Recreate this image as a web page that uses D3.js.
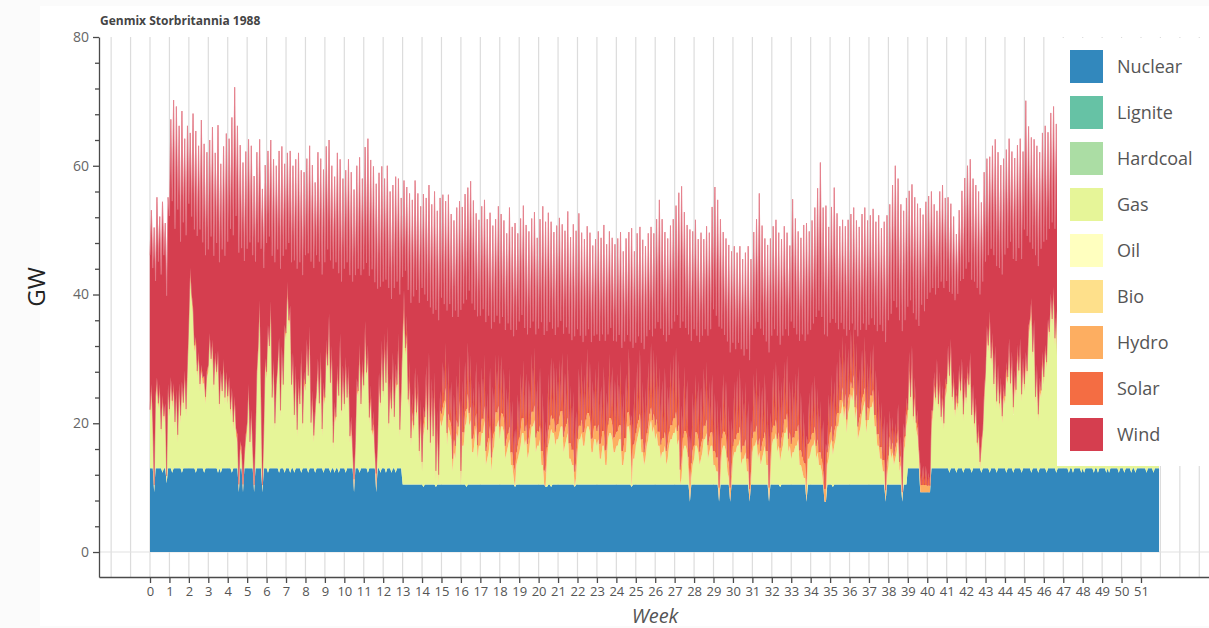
<!DOCTYPE html>
<html>
<head>
<meta charset="utf-8">
<script src="https://cdn.jsdelivr.net/npm/d3@7"></script>
<style>
  body { margin: 0; background: #fff; }
  svg { display: block; }
  text { font-family: "Open Sans", "Liberation Sans", sans-serif; }
</style>
</head>
<body>
<svg id="chart" width="1209" height="628"></svg>
<script>
// ---- Chart content ----------------------------------------------------
const chartTitle = "Genmix Storbritannia 1988";
const technologies = ["Nuclear", "Lignite", "Hardcoal", "Gas", "Oil", "Bio", "Hydro", "Solar", "Wind"];
const techColors = ["#3288bd", "#66c2a5", "#abdda4", "#e6f598", "#ffffbf", "#fee08b", "#fdae61", "#f46d43", "#d53e4f"];
const weekTicks = [0,1,2,3,4,5,6,7,8,9,10,11,12,13,14,15,16,17,18,19,20,21,22,23,24,25,
  26,27,28,29,30,31,32,33,34,35,36,37,38,39,40,41,42,43,44,45,46,47,48,49,50,51];
const gwTicks = [0, 20, 40, 60, 80];
const gwMinorTicks = [4, 8, 12, 16, 24, 28, 32, 36, 44, 48, 52, 56, 64, 68, 72, 76];

// Two readings per day (night, day), 14 per week, GW
const readingsPerWeek = 14;

const nuclear = [
  13,13,13,9.3,13,13,13,13,13,12.3,13,13,10.7,13,
  13,13,12.3,13,13,13,13,13,13,12.3,13,13,13,13,
  13,13,13,13,13,12.3,13,13,13,13,13,12.3,13,13,
  13,13,13,13,13,13,13,12.3,13,12.3,13,13,13,13,
  13,13,13,12.3,13,13,13,13,9.3,13,13,9.3,13,13,
  13,13,13,13,13,9.3,13,13,13,13,13,9.3,13,13,
  13,12.3,13,13,13,13,13,13,13,12.3,13,13,13,12.3,
  13,13,13,12.3,13,13,12.3,13,13,13,13,12.3,13,13,
  13,13,12.3,13,13,13,13,12.3,13,13,13,13,13,12.3,
  13,13,13,13,12.3,13,13,12.3,13,13,12.3,13,13,13,
  13,12.3,13,13,13,13,13,9.3,13,13,13,12.3,13,13,
  13,13,13,12.3,13,13,13,13,13,9.3,13,13,12.3,13,
  13,13,12.3,13,13,13,12.3,13,13,12.3,13,13,13,13,
  10.5,10.5,10.5,10.5,10.5,10.5,10.5,10.5,10.5,10.5,10.5,10.5,10.5,10.5,
  10.5,10.1,10.5,10.5,10.5,10.5,10.5,10.5,10.5,10.5,10.1,10.5,10.5,10.5,
  10.5,10.5,10.5,10.5,10.5,10.5,10.5,10.5,10.5,10.5,10.5,10.5,10.5,10.5,
  10.5,10.5,10.5,10.5,10.1,10.5,10.5,10.5,10.5,10.5,10.5,10.5,10.5,10.5,
  10.5,10.5,10.5,10.5,10.5,10.5,10.5,10.5,10.5,10.5,10.5,10.5,10.5,10.5,
  10.5,10.5,10.5,10.5,10.5,10.5,10.5,10.5,10.5,10.5,10.5,10.1,10.5,10.5,
  10.5,10.5,10.5,10.5,10.5,10.5,10.5,10.5,10.5,10.5,10.5,10.5,10.5,10.5,
  10.5,10.5,10.5,10.5,10.5,10.1,10.1,10.5,10.5,10.1,10.5,10.5,10.5,10.5,
  10.5,10.5,10.5,10.5,10.5,10.5,10.5,10.5,10.5,10.5,10.5,10.5,10.1,10.5,
  10.5,10.5,10.5,10.5,10.5,10.5,10.5,10.5,10.5,10.5,10.5,10.5,10.5,10.5,
  10.5,10.5,10.5,10.5,10.5,10.5,10.5,10.5,10.5,10.5,10.5,10.5,10.5,10.5,
  10.5,10.5,10.5,10.5,10.5,10.5,10.5,10.5,10.5,10.5,10.5,10.1,10.5,10.5,
  10.5,10.5,10.5,10.5,10.5,10.5,10.5,10.5,10.5,10.5,10.5,10.5,10.5,10.5,
  10.5,10.5,10.5,10.5,10.5,10.5,10.5,10.5,10.5,10.5,10.5,10.5,10.5,10.5,
  10.5,10.5,10.5,10.5,10.5,10.5,10.5,10.5,10.5,10.5,10.5,7.8,10.5,10.5,
  10.5,10.5,10.5,10.5,10.5,10.5,10.5,10.5,10.5,10.5,10.5,10.5,10.5,10.5,
  10.5,10.5,10.5,10.5,7.8,10.5,10.5,10.5,10.5,10.5,10.5,10.5,7.8,10.5,
  10.5,10.5,10.5,10.5,10.5,10.5,10.5,10.5,10.5,10.5,10.5,10.5,7.8,10.5,
  10.5,10.5,10.5,10.5,10.5,10.5,10.5,10.5,10.5,10.5,10.5,10.5,7.8,10.5,
  10.5,10.5,10.5,10.5,10.5,10.5,10.1,10.5,10.5,10.5,10.5,10.5,10.5,10.5,
  10.5,10.5,10.5,10.5,10.5,10.5,10.5,10.5,10.5,10.5,10.5,7.8,10.5,10.5,
  10.5,10.5,10.5,10.5,10.5,10.5,10.5,10.5,10.5,10.5,7.8,7.8,10.5,10.5,
  10.5,10.5,10.1,10.5,10.5,10.5,10.5,10.5,10.5,10.5,10.5,10.5,10.5,10.5,
  10.5,10.5,10.5,10.5,10.5,10.5,10.5,10.5,10.5,10.5,10.5,10.5,10.5,10.5,
  10.5,10.5,10.5,10.5,10.5,10.5,10.5,10.5,10.5,10.5,10.5,10.5,7.8,10.5,
  10.5,10.5,10.5,10.5,10.5,10.5,10.5,10.5,10.5,10.5,7.8,10.5,10.5,10.5,
  13,13,13,13,13,13,13,13,13,9.3,9.3,9.3,9.3,9.3,
  9.3,9.3,9.3,13,13,13,13,13,13,13,13,13,13,13,
  13,13,12.3,13,13,13,13,12.3,13,13,13,13,12.3,13,
  13,13,13,13,12.3,13,13,13,13,13,13,12.3,13,13,
  13,13,13,12.3,13,13,13,13,12.3,13,13,13,13,13,
  13,12.3,13,13,13,13,12.3,13,13,13,13,13,12.3,13,
  13,13,13,13,13,12.3,13,13,13,13,12.3,13,13,13,
  13,13,12.3,13,13,13,13,13,13,12.3,13,13,13,13,
  13,13,13,13,12.3,13,13,12.3,13,13,13,13,13,12.3,
  13,12.3,13,13,13,13,13,13,12.3,13,13,12.3,13,13,
  13,13,13,12.3,13,12.3,13,13,13,13,13,13,12.3,13,
  13,13,12.3,13,13,13,13,12.3,13,13,12.3,13,13,13,
  13,13,13,13,12.3,13,13,13,13,12.3,13,13,13,13
];

const lignite = [];   // no output
const hardcoal = [];  // no output

const gas = [
  8,12,6,0,10,13,9,12,5,11,7,9,0,12,
  8,13,10,12,6,11,4,12,7,13,9,14,8,15,
  22,30,26,24,18,20,14,17,12,15,13,14,10,14,
  15,20,16,19,12,17,14,18,9,15,11,16,10,14,
  10,13,8,12,6,10,5,4,0,3,2,0,1,4,
  6,12,3,8,2,0,4,14,18,25,10,0,5,16,
  14,22,18,25,10,16,6,12,15,20,8,18,12,22,
  20,27,22,24,12,16,8,14,5,12,9,17,6,13,
  12,18,14,20,6,10,4,8,11,15,9,16,5,12,
  10,18,15,22,13,17,3,9,7,14,11,19,8,14,
  9,16,10,14,4,6,2,0,3,12,11,18,9,15,
  12,20,14,17,7,10,5,6,2,0,3,12,10,17,
  11,18,13,19,6,11,9,15,7,14,12,18,5,10,
  22,26,20,22,12,15,6,10,8,14,10,13,4,9,
  2,8,9,14,7,16,5,12,6,13,1,7,0,10,
  9,10,11,13,6,9,8,7,2,5,4,8,7,11,
  0,6,6,9,10,12,9,10,5,5,7,9,4,6,
  6,8,8,10,3,4,5,7,2,5,6,9,9,10,
  7,9,9,8,4,5,6,7,3,3,1,0,3,4,
  5,6,8,8,6,7,4,5,7,9,9,10,5,6,
  6,7,3,3,0,0,4,6,7,9,8,8,6,7,
  7,8,9,9,5,6,7,8,4,4,3,3,0,1,
  5,7,7,8,6,6,8,9,9,8,5,5,7,7,
  6,7,4,4,6,6,3,3,7,8,8,7,5,5,
  6,6,7,7,3,3,5,5,9,9,7,0,4,4,
  6,7,8,9,5,5,3,4,6,7,9,10,8,9,
  7,8,6,6,4,5,5,6,3,4,6,7,7,8,
  8,9,6,7,0,1,5,6,6,5,2,0,1,3,
  4,6,6,5,3,4,5,7,7,8,4,5,6,6,
  3,3,2,2,0,1,5,6,6,5,2,1,0,0,
  4,5,5,6,6,7,3,4,4,5,2,2,0,0,
  5,6,6,7,4,5,3,4,5,6,3,3,0,1,
  6,7,7,8,5,6,4,5,6,8,8,9,5,6,
  4,5,5,6,6,7,3,3,2,1,1,0,4,4,
  5,6,6,7,4,5,3,3,2,0,0,0,3,4,
  6,7,5,6,7,9,9,11,11,13,10,12,8,11,
  12,14,13,15,10,12,7,8,9,11,12,13,8,10,
  10,12,12,13,9,9,6,6,4,4,2,2,0,1,
  3,6,4,5,3,4,5,7,2,3,0,5,6,9,
  8,14,10,15,7,10,6,5,2,0,0,0,0,0,
  0,0,0,6,8,12,10,14,9,12,7,10,6,11,
  12,17,14,18,10,13,8,11,9,14,11,15,8,12,
  10,14,12,16,8,11,6,9,3,5,0,3,5,10,
  14,20,18,23,16,19,12,17,10,14,9,12,7,11,
  10,15,13,18,12,16,9,13,11,17,14,18,11,15,
  12,16,14,20,22,25,17,21,10,14,8,12,11,16,
  13,18,16,22,20,26,22,27,19,24,15,20,14,18,
  12,17,14,19,10,15,8,12,11,16,13,18,9,14,
  15,20,17,22,12,16,7,11,9,14,12,17,10,15,
  13,18,16,21,11,15,6,9,4,8,10,16,12,17,
  14,19,11,16,9,13,12,18,15,21,10,14,7,11,
  9,13,7,10,8,12,6,9,10,14,11,15,12,16
];

const oil = [];       // no output
const bio = [];       // no output

// Weekly mean hydro output, GW
const hydroWeekly = [
  1.1,1.2,1.1,1.0,1.2,1.1,1.0,1.0,1.1,1.0,1.0,0.9,1.0,
  1.2,1.5,2.0,2.1,2.2,2.0,2.3,2.2,2.4,2.1,2.3,2.2,2.0,
  2.2,2.3,2.1,2.2,2.0,2.2,2.1,2.3,2.0,2.1,2.0,1.8,1.5,
  1.1,1.0,1.1,1.0,1.1,1.2,1.1,1.2,1.1,1.2,1.2,1.1,1.2
];

// Daytime solar output per day, GW (night readings are zero)
const solarMidday = [
  0,0,0,0,0,0,0, 0,0,0,0,0,0,0, 0,0,0,0,0,0,0, 0,0,0,0,0,0,0,
  0,0,0,0,0,0,0, 0,0,0,0,0,0,0, 0,0,0,0,0,0,0, 1,1,1,1,1,1,1,
  1,1,1,1,1,1,1, 1,1,1,1,1,1,1, 1,1,1,1,1,1,1, 2,2,2,2,2,2,2,
  2,2,2,2,2,2,2, 3,3,3,3,3,3,3, 3,3,3,3,3,3,3, 7,7,8,7,7,7,7,
  8,8,8,8,8,8,8, 8,8,8,9,8,9,8, 9,8,8,9,8,7,8, 9,9,8,9,9,9,8,
  9,9,8,9,9,9,9, 9,9,9,10,9,9,8, 9,9,9,10,9,9,9, 10,9,10,9,10,9,9,
  9,10,9,10,10,9,9, 10,10,9,9,10,10,10, 10,10,9,10,9,10,10, 10,10,9,10,9,8,9,
  9,9,9,9,9,9,9, 9,9,9,9,9,9,8, 9,9,9,9,9,9,8, 9,9,9,9,9,8,8,
  9,9,9,9,9,9,8, 9,9,9,9,8,8,8, 8,8,8,8,8,7,8, 8,8,8,8,8,8,8,
  8,8,8,8,8,8,7, 7,7,7,7,7,7,7, 4,4,4,4,3,3,3, 3,3,3,3,3,3,3,
  2,2,2,2,2,2,2, 1,1,1,1,1,1,1, 1,1,1,1,1,1,1, 1,1,1,1,1,1,1,
  1,1,1,1,1,1,1, 1,1,1,1,1,1,1, 0,0,0,0,0,0,0, 0,0,0,0,0,0,0,
  0,0,0,0,0,0,0, 0,0,0,0,0,0,0, 0,0,0,0,0,0,0, 0,0,0,0,0,0,0
];

const wind = [
  24,27,24,40,18,28,22,26,24,30,25,28,28,29,
  30,40,31,44,30,44,35,40,27,42,28,36,27,37,
  18,21,12,30,18,32,21,32,24,38,21,36,22,34,
  18,30,19,33,20,31,20,35,22,32,22,33,22,37,
  24,37,28,42,29,48,33,48,36,46,31,50,30,44,
  27,38,31,41,30,48,27,34,16,25,23,46,25,30,
  20,27,17,25,22,31,25,34,18,29,22,31,20,25,
  13,20,12,24,19,29,24,32,25,35,22,28,23,31,
  20,28,19,28,25,35,26,35,21,32,22,30,24,33,
  21,30,18,27,19,28,27,35,24,33,19,27,20,29,
  21,29,21,32,25,38,26,45,26,33,19,29,20,28,
  18,27,17,32,22,35,25,38,26,45,24,31,18,27,
  17,24,16,25,21,29,17,26,20,29,16,24,21,29,
  9,17,12,20,17,26,21,30,20,29,19,28,23,30,
  27,33,19,26,20,26,21,27,19,28,25,31,24,30,
  18,26,15,22,19,26,18,26,22,27,21,26,17,24,
  25,27,20,26,17,24,19,27,21,29,18,23,20,25,
  18,25,17,24,20,27,19,24,20,25,17,21,15,23,
  16,22,15,23,18,24,17,25,19,27,20,32,19,25,
  18,24,16,24,16,23,17,23,15,21,14,21,16,22,
  16,23,20,29,21,31,18,25,16,21,14,20,15,22,
  15,22,14,20,16,22,15,22,17,23,17,26,21,28,
  17,24,14,20,14,21,13,19,13,20,15,21,14,20,
  15,20,16,23,15,22,17,23,14,19,14,20,15,21,
  14,21,14,20,16,22,15,21,12,18,13,29,15,21,
  14,20,13,19,15,22,16,22,15,20,13,18,13,18,
  15,21,17,26,18,25,16,21,17,23,15,21,15,21,
  15,22,18,26,22,34,18,24,16,24,19,32,19,25,
  18,24,15,22,17,24,16,20,15,21,17,23,16,26,
  22,32,22,31,25,29,17,22,15,22,18,25,21,26,
  16,21,14,19,14,19,16,20,14,20,17,24,20,25,
  16,22,16,23,19,29,19,25,16,21,17,24,21,27,
  15,22,15,22,16,22,16,22,15,21,14,19,16,21,
  19,28,17,24,15,21,17,24,19,29,19,33,17,25,
  17,25,17,26,20,31,22,37,22,33,24,37,18,26,
  17,26,19,30,16,23,13,19,12,18,12,18,13,20,
  10,18,10,18,12,19,14,22,13,21,11,20,14,22,
  13,21,12,21,14,23,16,27,19,27,20,30,23,32,
  21,32,21,36,24,40,21,35,22,36,25,33,18,31,
  16,25,15,25,16,28,16,32,19,40,28,39,27,41,
  29,43,30,34,19,26,16,23,18,28,21,31,21,28,
  16,23,13,21,16,24,17,24,17,24,17,26,21,31,
  20,31,19,30,21,32,22,33,24,36,26,37,23,34,
  17,26,14,24,17,29,20,32,21,33,21,33,22,35,
  22,33,20,31,22,31,23,33,20,31,19,31,21,32,
  24,39,21,31,12,25,16,28,22,34,23,35,22,34,
  21,34,19,29,16,28,15,28,17,29,20,32,20,32,
  22,34,21,33,23,35,24,37,22,35,21,34,24,36,
  19,33,18,32,21,35,25,38,24,38,22,36,23,36,
  22,36,20,34,23,37,27,41,28,41,23,36,22,36,
  21,35,23,36,24,38,22,35,20,33,23,36,24,37,
  21,33,22,34,20,30,21,32,18,29,18,29,18,29
];

// ---- Build the stacked table -------------------------------------------
const rows = nuclear.map((n, i) => ({
  week: i / readingsPerWeek,
  Nuclear: n,
  Lignite: lignite[i] || 0,
  Hardcoal: hardcoal[i] || 0,
  Gas: gas[i],
  Oil: oil[i] || 0,
  Bio: bio[i] || 0,
  Hydro: hydroWeekly[Math.floor(i / readingsPerWeek)],
  Solar: i % 2 === 1 ? solarMidday[(i - 1) / 2] : 0,
  Wind: wind[i]
}));

const stacked = d3.stack().keys(technologies)(rows);
const color = d3.scaleOrdinal(technologies, techColors);

// ---- Layout ------------------------------------------------------------
const W = 1209, H = 628;
const plot = { left: 99, right: 1209, top: 37, bottom: 577 };

const x = d3.scaleLinear()
  .domain([-2.625, 54.5])
  .range([plot.left, plot.right]);
const y = d3.scaleLinear()
  .domain([-3.88, 80])
  .range([plot.bottom, plot.top]);

const svg = d3.select("#chart");

// faint page frame
svg.append("rect").attr("x", 0).attr("y", 0).attr("width", W).attr("height", H).attr("fill", "#fbfbfb");
svg.append("rect").attr("x", 40).attr("y", 6).attr("width", W - 40).attr("height", H - 8)
  .attr("fill", "#ffffff");

svg.append("defs").append("clipPath").attr("id", "plot-clip")
  .append("rect")
  .attr("x", plot.left).attr("y", plot.top)
  .attr("width", plot.right - plot.left).attr("height", plot.bottom - plot.top);

// vertical week grid
const gridWeeks = d3.range(Math.ceil(x.domain()[0]), Math.floor(x.domain()[1]) + 1);
svg.append("g")
  .selectAll("line").data(gridWeeks).join("line")
  .attr("x1", d => x(d)).attr("x2", d => x(d))
  .attr("y1", plot.top).attr("y2", plot.bottom)
  .attr("stroke", "#dcdcdc").attr("stroke-width", 1.2);

// zero line
svg.append("line")
  .attr("x1", plot.left).attr("x2", plot.right)
  .attr("y1", y(0)).attr("y2", y(0))
  .attr("stroke", "#e2e2e2").attr("stroke-width", 1.2);

// stacked areas
const area = d3.area()
  .x(d => x(d.data.week))
  .y0(d => y(d[0]))
  .y1(d => y(d[1]))
  .curve(d3.curveLinear);

const layers = svg.append("g").attr("clip-path", "url(#plot-clip)");
layers.selectAll("path").data(stacked).join("path")
  .attr("d", area)
  .attr("fill", d => color(d.key))
  .attr("stroke", d => d.key === "Wind" ? color(d.key) : "none")
  .attr("stroke-width", 0.4);

// light fringe along the top of the stack
const topLayer = stacked[stacked.length - 1];
layers.append("path")
  .datum(topLayer)
  .attr("d", d3.line().x(d => x(d.data.week)).y(d => y(d[1])))
  .attr("fill", "none")
  .attr("stroke", "#e58390")
  .attr("stroke-width", 0.7)
  .attr("stroke-opacity", 0.8);

// ---- Axes --------------------------------------------------------------
const axisColor = "#4a4a4a";

const yAxis = svg.append("g")
  .attr("transform", `translate(${plot.left},0)`)
  .call(d3.axisLeft(y).tickValues(gwTicks).tickSize(6).tickSizeOuter(0).tickPadding(4));
const yMinor = svg.append("g")
  .attr("transform", `translate(${plot.left},0)`)
  .call(d3.axisLeft(y).tickValues(gwMinorTicks).tickSize(4).tickSizeOuter(0).tickFormat(""));
yMinor.select(".domain").remove();
[yAxis, yMinor].forEach(g => {
  g.selectAll("path,line").attr("stroke", axisColor).attr("stroke-width", 1.3);
});
yAxis.selectAll("text").attr("font-size", 14).attr("fill", "#666");

const xAxis = svg.append("g")
  .attr("transform", `translate(0,${plot.bottom})`)
  .call(d3.axisBottom(x).tickValues(weekTicks).tickSize(6).tickSizeOuter(0).tickPadding(4));
xAxis.selectAll("path,line").attr("stroke", axisColor).attr("stroke-width", 1.3);
xAxis.selectAll("text").attr("font-size", 13).attr("fill", "#555");

// axis titles
svg.append("text")
  .attr("transform", "translate(45,287) rotate(-90)")
  .attr("text-anchor", "middle")
  .attr("font-size", 24)
  .attr("fill", "#222")
  .text("GW");

svg.append("text")
  .attr("x", 655).attr("y", 623)
  .attr("text-anchor", "middle")
  .attr("font-size", 20)
  .attr("font-style", "italic")
  .attr("fill", "#555")
  .text("Week");

// title
svg.append("text")
  .attr("x", 100).attr("y", 25)
  .attr("font-size", 12)
  .attr("font-weight", "bold")
  .attr("fill", "#444")
  .text(chartTitle);

// ---- Legend ------------------------------------------------------------
const legend = svg.append("g");
legend.append("rect")
  .attr("x", 1057).attr("y", 38)
  .attr("width", W - 1057).attr("height", 466 - 38)
  .attr("fill", "#fff");

const item = legend.selectAll("g.item").data(technologies).join("g")
  .attr("class", "item")
  .attr("transform", (d, i) => `translate(1070,${50 + i * 46})`);
item.append("rect")
  .attr("width", 33).attr("height", 33)
  .attr("fill", d => color(d));
item.append("text")
  .attr("x", 47).attr("y", 16.5)
  .attr("dy", "0.35em")
  .attr("font-size", 18)
  .attr("fill", "#555")
  .text(d => d);
</script>
</body>
</html>
